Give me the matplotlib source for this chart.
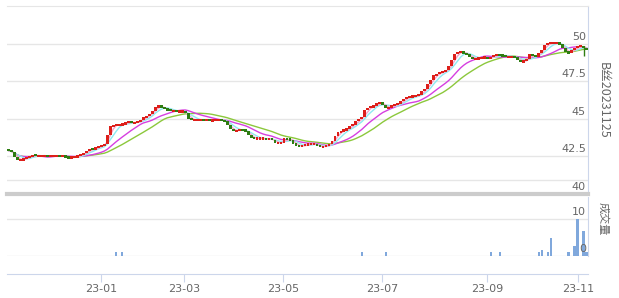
import matplotlib
matplotlib.use("Agg")
import matplotlib.pyplot as plt
import numpy as np
import pandas as pd

# ---------------- data ----------------
closes = [
    42.9, 42.8, 42.45, 42.25, 42.25, 42.35, 42.45, 42.5, 42.6, 42.55,
    42.55, 42.55, 42.55, 42.5, 42.55, 42.55, 42.55, 42.5, 42.55, 42.45,
    42.4, 42.45, 42.45, 42.55, 42.6, 42.7, 42.85, 43.0, 42.95, 43.1,
    43.15, 43.2, 43.35, 43.9, 44.5, 44.6, 44.6, 44.6, 44.65, 44.75,
    44.8, 44.75, 44.75, 44.8, 44.9, 45.1, 45.2, 45.3, 45.5, 45.8,
    45.85, 45.8, 45.65, 45.6, 45.55, 45.55, 45.5, 45.5, 45.5, 45.4,
    45.0, 44.95, 44.95, 44.95, 44.95, 44.9, 44.95, 44.9, 44.9, 44.95,
    44.95, 44.9, 44.85, 44.6, 44.35, 44.2, 44.2, 44.3, 44.25, 44.2,
    43.95, 43.75, 43.7, 43.7, 43.7, 43.7, 43.65, 43.7, 43.6, 43.4,
    43.4, 43.4, 43.7, 43.65, 43.6, 43.35, 43.25, 43.15, 43.2, 43.3,
    43.3, 43.35, 43.35, 43.2, 43.15, 43.15, 43.2, 43.3, 43.55, 43.85,
    44.1, 44.2, 44.25, 44.35, 44.55, 44.6, 44.85, 45.0, 45.1, 45.6,
    45.75, 45.8, 45.85, 46.05, 46.1, 45.95, 45.7, 45.75, 45.9, 45.95,
    46.0, 46.2, 46.3, 46.45, 46.5, 46.5, 46.55, 46.6, 46.85, 47.0,
    47.3, 47.6, 47.9, 48.0, 48.1, 48.15, 48.25, 48.5, 48.9, 49.3,
    49.45, 49.5, 49.35, 49.3, 49.15, 49.0, 49.0, 49.05, 49.1, 49.1,
    49.0, 49.1, 49.25, 49.3, 49.25, 49.2, 49.15, 49.15, 49.15, 49.1,
    48.95, 48.8, 48.85, 49.0, 49.3, 49.2, 49.15, 49.4, 49.6, 49.95,
    50.05, 50.05, 50.05, 50.05, 50.0, 49.7, 49.45, 49.4, 49.6, 49.7,
    49.85, 49.85, 49.7, 49.65,
]
first_open = 43.0
wick_idx = [192]
wick_low = [49.2]
wick_high = [49.85]

vol_idx = [36, 38, 118, 126, 161, 164, 177, 178, 180, 181, 187, 189, 190, 192, 193]
vol_val = [1.0, 1.0, 1.0, 1.0, 1.0, 1.0, 1.0, 1.7, 1.0, 4.9, 1.0, 2.8, 9.9, 6.8, 1.0]

ma_windows = [3, 5, 12, 20]
ma_colors = ["#f5a3c7", "#8eeaf2", "#d63fe0", "#8cc83c"]

price_levels = [50, 47.5, 45, 42.5, 40]
price_labels = ["50", "47.5", "45", "42.5", "40"]
vol_levels = [10, 0]
vol_labels = ["10", "0"]

tick_labels = ["23-01", "23-03", "23-05", "23-07", "23-09", "23-11"]
tick_pos = [30.9, 58.6, 91.7, 124.7, 159.8, 190.1]

# ---------------- figure ----------------
W, H = 619, 298
fig = plt.figure(figsize=(W / 100, H / 100), dpi=100)
left, right = 7, 588
ax1 = fig.add_axes([left / W, 1 - 194 / H, (right - left) / W, (194 - 6) / H])
ax2 = fig.add_axes([left / W, 1 - 256 / H, (right - left) / W, (256 - 197) / H])

N = len(closes)
x = np.arange(N)
c = np.array(closes)
o = np.array([first_open] + closes[:-1])

grid_c = "#e6e6e6"
axis_c = "#ccd6eb"
txt_c = "#666666"
red = "#dd1f1a"
green = "#2e7d12"

# moving averages
s = pd.Series(closes)
for w, col in zip(ma_windows[::-1], ma_colors[::-1]):
    ax1.plot(x, s.rolling(w, min_periods=1).mean(), color=col, lw=1.0, zorder=2)

# candles
up = c >= o
minh = 0.15
diff = np.abs(c - o)
height = np.maximum(diff, minh)
bottom = np.minimum(o, c) - np.where(diff < minh, (minh - diff) / 2, 0)
ax1.bar(x, height, bottom=bottom, width=0.95,
        color=np.where(up, red, green), zorder=3, linewidth=0)
for i, lo, hi in zip(wick_idx, wick_low, wick_high):
    col = red if up[i] else green
    ax1.vlines(i, lo, hi, color=col, lw=1.0, zorder=3)

ax1.set_xlim(-0.5, N - 0.5)
ax1.set_ylim(40, 52.53)
for lv in price_levels[:-1] + [40.93]:
    ax1.axhline(lv, color=grid_c, lw=1, zorder=1)
ax1.axhline(40, color="#cccccc", lw=3, zorder=4, clip_on=False)
for lv, lb in zip(price_levels, price_labels):
    ax1.annotate(lb, xy=(1, lv), xycoords=("axes fraction", "data"), xytext=(-1.5, 1.5),
                 textcoords="offset points", ha="right", va="bottom", fontsize=8, color=txt_c,
                 zorder=5)
ax1.set_xticks([])
ax1.set_yticks([])
for sp in ["left", "bottom"]:
    ax1.spines[sp].set_visible(False)
ax1.spines["top"].set_color(grid_c)
ax1.spines["right"].set_color(axis_c)
ax1.patch.set_alpha(0)

# volume panel
ax2.bar(vol_idx, vol_val, width=0.7, color="#80a8dc", zorder=3, linewidth=0)
ax2.set_xlim(-0.5, N - 0.5)
ax2.set_ylim(0, 15.95)
ax2.axhline(10, color=grid_c, lw=1, zorder=1)
ax2.axhline(0, color=grid_c, lw=1, zorder=1)
for lv, lb in zip(vol_levels, vol_labels):
    ax2.annotate(lb, xy=(1, lv), xycoords=("axes fraction", "data"), xytext=(-1.5, 1.5),
                 textcoords="offset points", ha="right", va="bottom", fontsize=8, color=txt_c,
                 zorder=5)
ax2.set_yticks([])
ax2.spines["left"].set_visible(False)
ax2.spines["top"].set_visible(False)
ax2.spines["right"].set_color(axis_c)
ax2.spines["bottom"].set_color(axis_c)
ax2.spines["bottom"].set_position(("outward", 13))
ax2.set_xticks(tick_pos)
ax2.set_xticklabels(tick_labels, fontsize=8, color=txt_c)
ax2.tick_params(axis="x", direction="out", length=6, color=axis_c, pad=1)
ax2.patch.set_alpha(0)

cjk = ["Noto Sans CJK SC", "DejaVu Sans"]
fig.text(603 / W, 1 - 100 / H, "B丝20231125", rotation=270, ha="center", va="center",
         fontsize=9, color=txt_c, family=cjk)
fig.text(603 / W, 1 - 219 / H, "成交量", rotation=270, ha="center", va="center",
         fontsize=8, color=txt_c, family=cjk)

fig.savefig("out.png", dpi=100)
